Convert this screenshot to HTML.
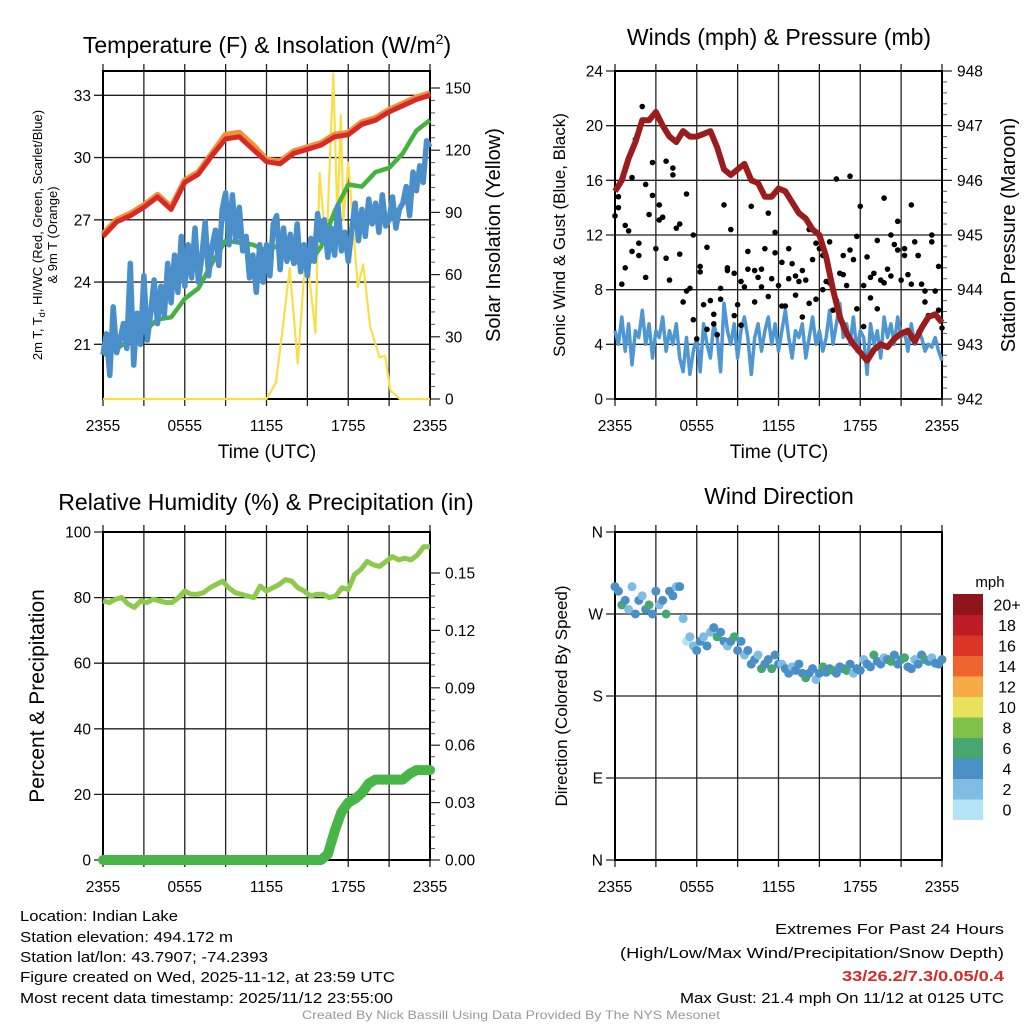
<!DOCTYPE html>
<html><head><meta charset="utf-8"><style>
html,body{margin:0;padding:0;background:#fff;}
svg{display:block;font-family:"Liberation Sans",sans-serif;}
</style></head><body>
<svg id="fig" width="1024" height="1024" viewBox="0 0 1024 1024" xmlns="http://www.w3.org/2000/svg">
<rect width="1024" height="1024" fill="#fff"/>
<g font-size="23" text-anchor="middle" fill="#000">
<text x="267" y="53">Temperature (F) &amp; Insolation (W/m<tspan font-size="14" dy="-9">2</tspan><tspan dy="9">)</tspan></text>
<text x="779" y="45">Winds (mph) &amp; Pressure (mb)</text>
<text x="266" y="510">Relative Humidity (%) &amp; Precipitation (in)</text>
<text x="779" y="504">Wind Direction</text>
</g>
<g font-size="19" text-anchor="middle">
<text x="267" y="458">Time (UTC)</text>
<text x="779" y="458">Time (UTC)</text>
</g>
<text font-size="13" text-anchor="middle" transform="translate(42,235) rotate(-90)">2m T, T<tspan font-size="9" dy="3">d</tspan><tspan dy="-3">, HI/WC (Red, Green, Scarlet/Blue)</tspan></text>
<text font-size="13" text-anchor="middle" transform="translate(57,235) rotate(-90)">&amp; 9m T (Orange)</text>
<text font-size="20" text-anchor="middle" transform="translate(500,235) rotate(-90)">Solar Insolation (Yellow)</text>
<text font-size="17" text-anchor="middle" transform="translate(565,235) rotate(-90)">Sonic Wind &amp; Gust (Blue, Black)</text>
<text font-size="20" text-anchor="middle" transform="translate(1015,235) rotate(-90)">Station Pressure (Maroon)</text>
<text font-size="21" text-anchor="middle" transform="translate(44,696) rotate(-90)">Percent &amp; Precipitation</text>
<text font-size="17" text-anchor="middle" transform="translate(567,696) rotate(-90)">Direction (Colored By Speed)</text>
<g font-size="15" fill="#000">
<text x="20" y="921" textLength="158" lengthAdjust="spacingAndGlyphs">Location: Indian Lake</text>
<text x="20" y="942" textLength="213" lengthAdjust="spacingAndGlyphs">Station elevation: 494.172 m</text>
<text x="20" y="962" textLength="248" lengthAdjust="spacingAndGlyphs">Station lat/lon: 43.7907; -74.2393</text>
<text x="20" y="982" textLength="375" lengthAdjust="spacingAndGlyphs">Figure created on Wed, 2025-11-12, at 23:59 UTC</text>
<text x="20" y="1003" textLength="373" lengthAdjust="spacingAndGlyphs">Most recent data timestamp: 2025/11/12 23:55:00</text>
<text x="775" y="934" textLength="229" lengthAdjust="spacingAndGlyphs">Extremes For Past 24 Hours</text>
<text x="620" y="958" textLength="384" lengthAdjust="spacingAndGlyphs">(High/Low/Max Wind/Precipitation/Snow Depth)</text>
<text x="842" y="981" textLength="162" lengthAdjust="spacingAndGlyphs" fill="#d42a2a" font-weight="bold">33/26.2/7.3/0.05/0.4</text>
<text x="680" y="1003" textLength="324" lengthAdjust="spacingAndGlyphs">Max Gust: 21.4 mph On 11/12 at 0125 UTC</text>
<text x="302" y="1019" font-size="12" fill="#999" textLength="418" lengthAdjust="spacingAndGlyphs">Created By Nick Bassill Using Data Provided By The NYS Mesonet</text>
</g>
<g id="plots"></g>
</svg>
<script>
// ---- data ----
const xTickLabels = ['2355','0555','1155','1755','2355'];
const tempTicks = [21,24,27,30,33];
const solarTicks = [0,30,60,90,120,150];
const windTicks = [0,4,8,12,16,20,24];
const presTicks = [942,943,944,945,946,947,948];
const rhTicks = [0,20,40,60,80,100];
const precipTicks = [0,0.03,0.06,0.09,0.12,0.15];
const dirTicks = [0,90,180,270,360];
const dirLabels = ['N','E','S','W','N'];
const speedBins = ['0','2','4','6','8','10','12','14','16','18','20+'];
const temp2m = [26.2,26.9,27.2,27.6,28.1,27.5,28.8,29.2,30.1,30.9,31.0,30.4,29.8,29.7,30.2,30.4,30.6,31.0,31.1,31.6,31.8,32.2,32.5,32.8,33.0];
const temp9m = [26.3,27.0,27.3,27.7,28.2,27.6,28.9,29.3,30.2,31.1,31.2,30.6,29.9,29.8,30.3,30.5,30.7,31.1,31.2,31.7,31.9,32.3,32.6,32.9,33.1];
const dewpoint = [20.5,20.8,21.2,21.6,22.2,22.3,23.2,23.7,24.9,26.0,25.9,25.8,25.5,25.8,25.0,24.8,25.7,27.4,28.7,28.6,29.3,29.5,30.2,31.3,31.8];
const windChill = [20.5,21.5,19.5,22.8,20.6,21.2,22.0,20.8,24.9,20.0,22.5,21.0,24.3,21.2,22.5,24.1,22.0,23.8,22.4,24.9,23.0,25.3,23.5,26.2,23.8,25.8,24.2,26.6,24.0,25.2,26.9,24.3,25.7,26.5,24.8,27.5,28.3,25.8,28.2,26.0,27.6,25.5,26.2,24.2,25.3,23.5,25.8,24.0,25.8,24.3,26.8,27.2,24.6,26.6,25.0,26.3,24.9,26.8,24.5,25.8,24.3,26.1,25.0,27.3,26.0,27.0,25.2,26.6,25.3,27.7,25.5,26.4,25.0,26.5,27.8,26.0,27.5,26.2,28.0,26.8,27.8,26.4,28.2,26.7,27.0,28.1,26.6,27.5,27.8,28.6,27.2,29.3,28.4,29.6,28.8,30.8,30.5];
const solarTimes = [0,12,12.7,13.2,13.7,14.3,14.9,15.6,15.9,16.4,16.9,17.2,17.45,17.65,18,18.7,19.1,19.6,20.3,20.7,21.1,21.8,24];
const solarValues = [0,0,8,35,63,17,73,32,109,72,157,86,137,86,114,54,65,35,20,21,4,0,0];
const pressure = [945.8,946.0,946.4,946.7,947.1,947.1,947.25,947.0,946.8,946.7,946.9,946.8,946.8,946.85,946.9,946.6,946.2,946.1,946.2,946.3,946.0,945.95,945.7,945.7,945.85,945.8,945.6,945.4,945.3,945.1,945.0,944.6,944.0,943.5,943.2,943.0,942.85,942.7,942.9,943.0,942.95,943.1,943.2,943.25,943.05,943.3,943.5,943.55,943.4];
const windSpeed = [5,4,6,3.5,5.5,2.5,5,4.5,6.5,4,5.5,3,5,4.5,6,3.5,5,4,5.5,3,2,4.5,1.8,3.5,4.5,2,5.5,4,3,5.5,4.5,2,7,5,4,5.5,3,5,6,4.5,1.8,4.5,5.5,3.5,5,6,4,5.5,3.5,5,6.5,4.5,3,5,4.5,5.5,3,4.5,6,4,5,3.5,4.5,6.5,4,5.5,7,4.5,5.5,4,6,3.5,5,4.5,1.8,5.5,4,5,3,6,4.5,5.5,4,6,4.5,5,3.5,5.5,4,5,4.5,3.5,4,3.8,4.5,3.5,2.8];
const gusts = [13.4,14.8,8.4,9.6,12.3,10.8,19,11.4,21.4,15.7,13.5,17.3,11,14.2,13.3,17.4,8.7,16.4,12.5,10.6,7.1,15.0,8.1,5.8,4.4,9.7,6.9,11.1,7.2,6.2,4.7,8.1,14.2,9.4,12.4,9.2,6.9,5.4,8.2,9.5,14.1,7.1,8.9,9.5,11.0,13.6,8.8,10.7,8.3,10.0,6.8,8.8,9.9,7.6,8.6,6.0,8.7,12.4,10.2,7.3,11.0,10.5,8.6,11.5,6.5,16.1,9.2,10.5,8.3,16.3,10.2,11.9,14.1,8.3,10.4,7.4,9.2,6.6,8.7,14.7,9.5,12.0,11.3,13.0,8.7,10.5,9.1,14.2,11.5,10.5,8.4,7.1,6.1,12.0,7.9,6.5,5.2];
const gusts2 = [14.0,12.7,16.2,10.5,8.9,14.9,13.1,10.3,16.9,12.8,7.9,12.0,9.3,5.1,5.5,7.3,9.6,6.1,8.6,10.8,9.4,8.2,7.5,12.2,6.8,11.0,9.0,9.4,7.0,11.4,8.0,8.5,7.2,9.1,10.9,6.6,5.3,8.9,11.6,8.5,9.0,10.9,11.0,8.4,10.5,7.9,11.5,9.7];
const rh = [79,78.5,79.5,80,78,77,79,78.5,79.5,79,78.5,78.5,80,82,81,81,81.5,83,84,85,83,81.5,81,80.5,80,83.5,82,83,84,85.5,85,83,82,80.5,81,81,80,80.5,83,82.5,87,88.5,91,90,89.5,91,92.5,91.5,92,91.5,93,95.5,95.5];
const precip = [0,0,0,0,0,0,0,0,0,0,0,0,0,0,0,0,0,0,0,0,0,0,0,0,0,0,0,0,0,0,0,0,0,0.003,0.015,0.025,0.03,0.032,0.035,0.04,0.042,0.042,0.042,0.042,0.042,0.045,0.047,0.047,0.047];
const windDir = [300,295,280,285,275,300,270,285,290,275,280,270,295,280,285,270,295,290,300,300,265,240,245,235,230,240,245,235,250,255,245,250,240,235,240,245,230,240,225,230,215,220,225,210,215,220,210,225,215,215,210,205,212,208,215,205,200,205,210,198,205,212,206,210,208,205,212,210,208,215,205,210,208,220,215,212,225,218,215,222,220,218,225,215,220,222,212,210,220,215,225,220,218,222,216,215,220];
const dirSpeed = [4,4,6,4,3,2,4,4,3,4,6,4,4,3,4,6,4,4,3,4,2,1,2,3,4,4,3,4,2,4,6,4,4,3,4,6,4,4,2,4,4,4,3,6,4,4,6,4,4,3,4,4,2,4,4,4,6,4,4,3,4,6,4,4,6,4,4,4,6,4,3,4,4,2,4,4,6,4,4,3,4,6,4,4,4,6,4,4,3,4,4,6,4,2,4,4,4];
const binColors = ['#b6e2f6','#80bbe4','#4a8fc6','#48a66f','#7fc24a','#e6e25a','#f6aa45','#ef6530','#dc3528','#bb1c25','#8e1519'];

// ---- helpers ----
const NS='http://www.w3.org/2000/svg';
const root=document.getElementById('plots');
function mk(tag,attrs,parent){const n=document.createElementNS(NS,tag);for(const k in attrs)n.setAttribute(k,attrs[k]);(parent||root).appendChild(n);return n;}
function lin(d0,d1,r0,r1){return v=>r0+(v-d0)*(r1-r0)/(d1-d0);}
function idxT(i,n){return i*24/(n-1);}

const P={
 tl:{x0:103,x1:430,y0:71,y1:399},
 tr:{x0:615,x1:942,y0:71,y1:399},
 bl:{x0:103,x1:430,y0:532,y1:860},
 br:{x0:615,x1:942,y0:532,y1:860}
};
function xs(p){return lin(0,24,p.x0,p.x1);}

function frame(p,name,leftTicks,ly,leftFmt,rightTicks,ry,rightFmt,minorR){
 const g=mk('g',{});
 
 
 const X=xs(p);
 for(let k=0;k<=8;k++){
  const x=X(k*3);
  const l=mk('line',{x1:x,x2:x,y1:p.y0-7,y2:p.y1+7,stroke:'#222','stroke-width':1.3},g);
  
  
 }
 xTickLabels.forEach((s,i)=>{
  const t=mk('text',{x:X(i*6),y:p.y1+32,'font-size':15.5,'text-anchor':'middle'},g);
  t.textContent=s;
  
  
 });
 leftTicks.forEach((v,i)=>{
  const y=ly(v);
  const l=mk('line',{x1:p.x0-9,x2:p.x1,y1:y,y2:y,stroke:'#222','stroke-width':1.3},g);
  
  
  const t=mk('text',{x:p.x0-12,y:y+5.5,'font-size':15.5,'text-anchor':'end'},g);
  t.textContent=leftFmt(v,i);
  
  
 });
 if(rightTicks){
  rightTicks.forEach((v,i)=>{
   const y=ry(v);
   mk('line',{x1:p.x1,x2:p.x1+10,y1:y,y2:y,stroke:'#222','stroke-width':1.2},g);
   const t=mk('text',{x:p.x1+15,y:y+5.5,'font-size':15.5},g);
   t.textContent=rightFmt(v);
   
   
   if(i<rightTicks.length-1){
    const nv=rightTicks[i+1];
    for(let m=1;m<minorR;m++){const yy=ry(v+(nv-v)*m/minorR);mk('line',{x1:p.x1,x2:p.x1+5,y1:yy,y2:yy,stroke:'#555','stroke-width':1},g);}
   }
  });
 }
 mk('rect',{x:p.x0,y:p.y0,width:p.x1-p.x0,height:p.y1-p.y0,fill:'none',stroke:'#000','stroke-width':2},g);
}
function path(pts){return pts.map((q,i)=>(i?'L':'M')+q[0].toFixed(1)+' '+q[1].toFixed(1)).join(' ');}

// ---- Temperature panel ----
{const p=P.tl,X=xs(p),Y=lin(21,33,344.3,95.3),YS=lin(0,150,399,88);
 frame(p,'temperature',tempTicks,Y,v=>String(v),solarTicks,YS,v=>String(v),5);
 const s=mk('path',{d:path(solarTimes.map((t,i)=>[X(t),YS(solarValues[i])])),fill:'none',stroke:'#f8df4a','stroke-width':2.2,'stroke-linejoin':'round'});
 
 
 const dp=mk('path',{d:path(dewpoint.map((v,i)=>[X(idxT(i,dewpoint.length)),Y(v)])),fill:'none',stroke:'#47b13f','stroke-width':4.5,'stroke-linejoin':'round'});
 
 
 const o=mk('path',{d:path(temp9m.map((v,i)=>[X(idxT(i,temp9m.length)),Y(v)])),fill:'none',stroke:'#f3903a','stroke-width':6,'stroke-linejoin':'round'});
 
 
 const r=mk('path',{d:path(temp2m.map((v,i)=>[X(idxT(i,temp2m.length)),Y(v)])),fill:'none',stroke:'#d62a26','stroke-width':5,'stroke-linejoin':'round'});
 
 
 const b=mk('path',{d:path(windChill.map((v,i)=>[X(idxT(i,windChill.length)),Y(v)])),fill:'none',stroke:'#4a8fc9','stroke-width':5.5,'stroke-linejoin':'round'});
 
 
}
// ---- Winds panel ----
{const p=P.tr,X=xs(p),Y=lin(0,24,399,71),YP=lin(942,948,399,71);
 frame(p,'winds',windTicks,Y,v=>String(v),presTicks,YP,v=>String(v),5);
 const w=mk('path',{d:path(windSpeed.map((v,i)=>[X(idxT(i,windSpeed.length)),Y(v)])),fill:'none',stroke:'#4f97d3','stroke-width':3.5,'stroke-linejoin':'round'});
 
 
 const gg=mk('g',{fill:'#000'});
 
 
 gusts.forEach((v,i)=>{const c=mk('circle',{cx:X(idxT(i,gusts.length)),cy:Y(v),r:2.8},gg);
  
  });
 gusts2.forEach((v,i)=>{const c=mk('circle',{cx:X((i+0.5)*24/gusts2.length),cy:Y(v),r:2.8},gg);
  
  });
 const pr=mk('path',{d:path(pressure.map((v,i)=>[X(idxT(i,pressure.length)),YP(v)])),fill:'none',stroke:'#9b1c1c','stroke-width':6,'stroke-linejoin':'round'});
 
 
}
// ---- Humidity panel ----
{const p=P.bl,X=xs(p),Y=lin(0,100,860,532),YR=lin(0,0.15,860,573);
 frame(p,'humidity',rhTicks,Y,v=>String(v),precipTicks,YR,v=>v.toFixed(2),5);
 const h=mk('path',{d:path(rh.map((v,i)=>[X(idxT(i,rh.length)),Y(v)])),fill:'none',stroke:'#8cc94c','stroke-width':5,'stroke-linejoin':'round'});
 
 
 const pl=mk('path',{d:path(precip.map((v,i)=>[X(idxT(i,precip.length)),YR(v)])),fill:'none',stroke:'#47b547','stroke-width':10,'stroke-linejoin':'round','stroke-linecap':'round'});
 
 
}
// ---- Direction panel ----
{const p=P.br,X=xs(p),Y=lin(0,360,860,532);
 frame(p,'direction',dirTicks,Y,(v,i)=>dirLabels[i],null);
 const dg=mk('g',{});
 
 
 windDir.forEach((d,i)=>{const b=Math.min(10,Math.floor(dirSpeed[i]/2));
  const c=mk('circle',{cx:X(idxT(i,windDir.length)),cy:Y(d),r:4.5,fill:binColors[b]},dg);
  
  });
 const lg=mk('g',{});
 
 
 const t0=mk('text',{x:990,y:587,'font-size':15,'text-anchor':'middle'},lg);
 t0.textContent='mph';
 
 
 const bh=20.5;
 speedBins.forEach((s,i)=>{const y=594+(10-i)*bh;
  const r=mk('rect',{x:953,y:y,width:30,height:bh+0.5,fill:binColors[i]},lg);
  
  
  const t=mk('text',{x:1007,y:y+bh/2+6,'font-size':16,'text-anchor':'middle'},lg);
  t.textContent=s;
  
  });
}
</script>
</body></html>
